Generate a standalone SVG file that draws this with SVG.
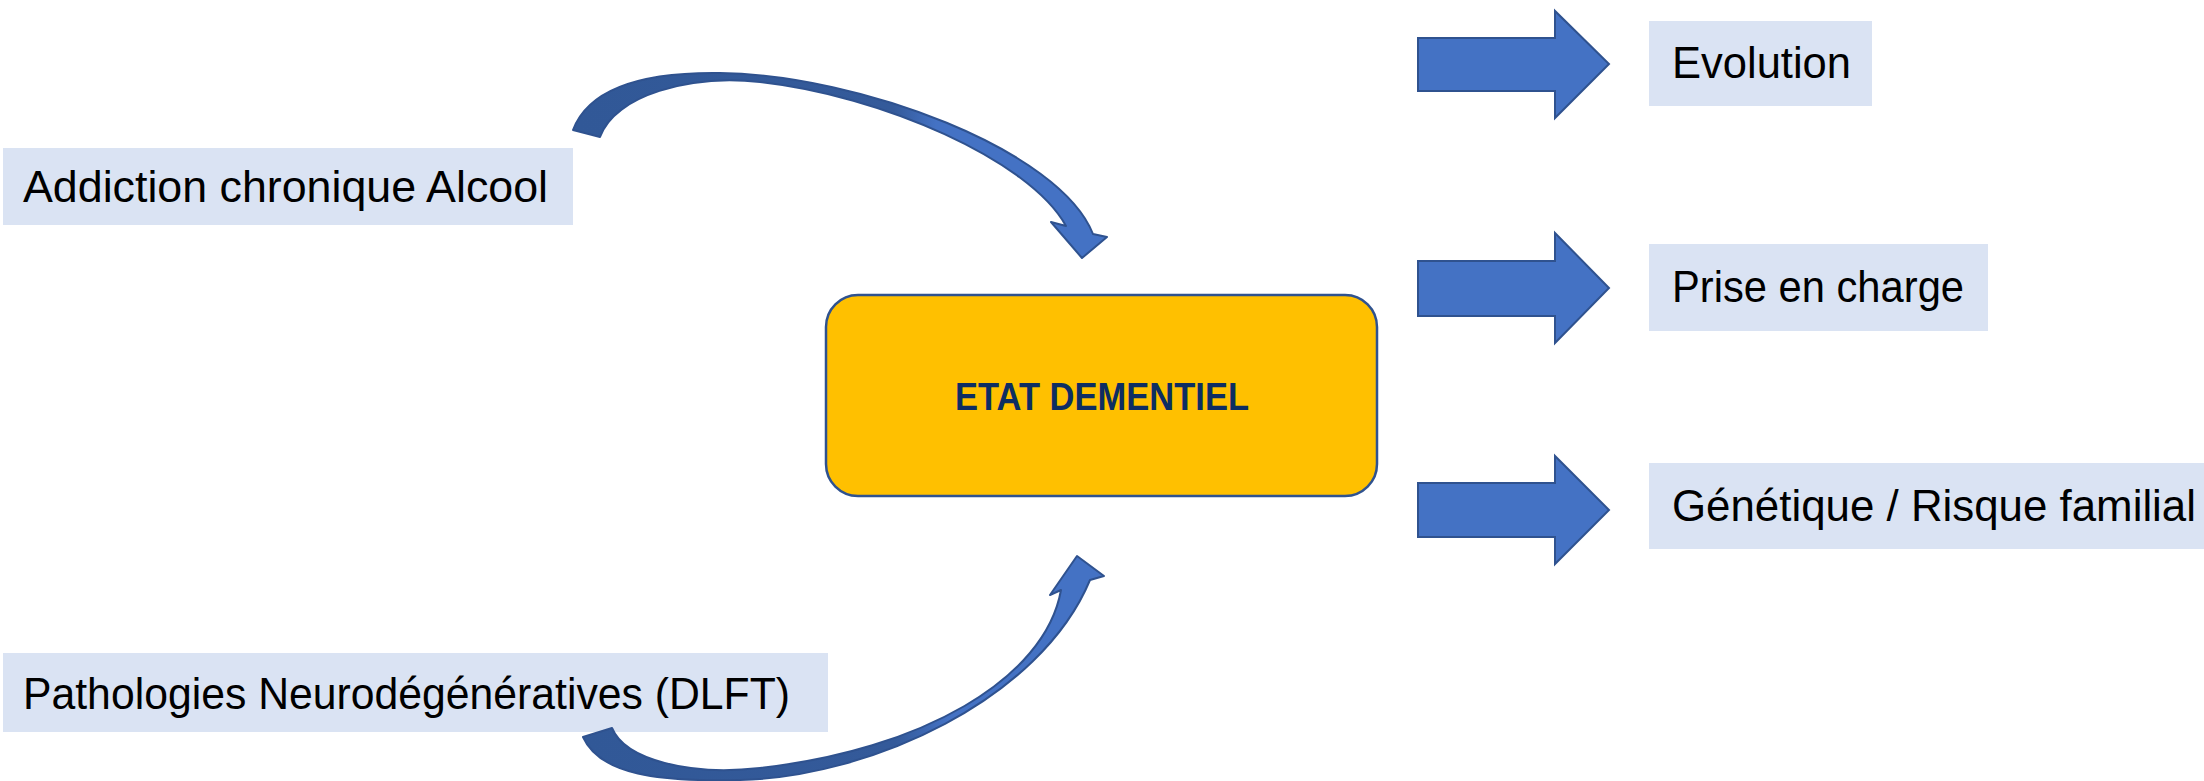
<svg xmlns="http://www.w3.org/2000/svg" width="2204" height="781" viewBox="0 0 2204 781">
<style>
.box{fill:#DAE3F3;}
.lbl{font-family:"Liberation Sans","Noto Sans",sans-serif;font-size:44px;fill:#000;}
.blk{fill:#4472C4;stroke:#2F528F;stroke-width:2;stroke-linejoin:miter;}
.curve{stroke:#2F528F;stroke-width:2;stroke-linejoin:round;}
.main{fill:#FFC000;stroke:#2F528F;stroke-width:2.5;}
.mainlbl{font-family:"Liberation Sans","Noto Sans",sans-serif;font-size:38px;font-weight:bold;fill:#0D2D62;}
</style>
<defs>
<linearGradient id="gTop" gradientUnits="userSpaceOnUse" x1="573" y1="0" x2="1107" y2="0">
<stop offset="0" stop-color="#315897"/>
<stop offset="0.6" stop-color="#345A9A"/>
<stop offset="0.68" stop-color="#4472C4"/>
<stop offset="1" stop-color="#4472C4"/>
</linearGradient>
<linearGradient id="gBot" gradientUnits="userSpaceOnUse" x1="583" y1="0" x2="1104" y2="0">
<stop offset="0" stop-color="#315897"/>
<stop offset="0.6" stop-color="#345A9A"/>
<stop offset="0.7" stop-color="#4472C4"/>
<stop offset="1" stop-color="#4472C4"/>
</linearGradient>
</defs>
<g id="node-addiction">
<rect class="box" x="3" y="148" width="570" height="77"/>
<text class="lbl" x="23" y="202" textLength="525" lengthAdjust="spacingAndGlyphs">Addiction chronique Alcool</text>
</g>
<g id="node-pathologies">
<rect class="box" x="3" y="653" width="825" height="79"/>
<text class="lbl" x="23" y="709" textLength="767" lengthAdjust="spacingAndGlyphs">Pathologies Neurodégénératives (DLFT)</text>
</g>
<g id="node-etat">
<rect class="main" x="826" y="295" width="551" height="201" rx="32" ry="32"/>
<text class="mainlbl" x="1102" y="410" text-anchor="middle" textLength="294" lengthAdjust="spacingAndGlyphs">ETAT DEMENTIEL</text>
</g>
<g id="node-evolution">
<rect class="box" x="1649" y="21" width="223" height="85"/>
<text class="lbl" x="1672" y="78" textLength="179" lengthAdjust="spacingAndGlyphs">Evolution</text>
</g>
<g id="node-prise">
<rect class="box" x="1649" y="244" width="339" height="87"/>
<text class="lbl" x="1672" y="302" textLength="292" lengthAdjust="spacingAndGlyphs">Prise en charge</text>
</g>
<g id="node-genetique">
<rect class="box" x="1649" y="463" width="555" height="86"/>
<text class="lbl" x="1672" y="521" textLength="524" lengthAdjust="spacingAndGlyphs">Génétique / Risque familial</text>
</g>
<g id="connectors">
<path class="curve" fill="url(#gTop)" d="M573,130 C590,85 650,72 720,73 C860,75 1060,150 1093,234 L1107,237 L1082,258 L1051,222 L1066,226 C1030,160 880,95 760,82 C690,74.4 615,95 600,137 Z"/>
<path class="curve" fill="url(#gBot)" d="M583,737 C600,775 660,782 740,780 C870,777 1040,700 1090,580 L1104,576 L1077,556 L1050,595 L1061,590 C1045,680 920,750 760,768 C690,776 625,760 612,728 Z"/>
<path class="blk" d="M1418,38 H1555 V11 L1609,64 L1555,118 V91 H1418 Z"/>
<path class="blk" d="M1418,261 H1555 V233 L1609,288 L1555,343 V316 H1418 Z"/>
<path class="blk" d="M1418,483 H1555 V456 L1609,510 L1555,564 V537 H1418 Z"/>
</g>
</svg>
